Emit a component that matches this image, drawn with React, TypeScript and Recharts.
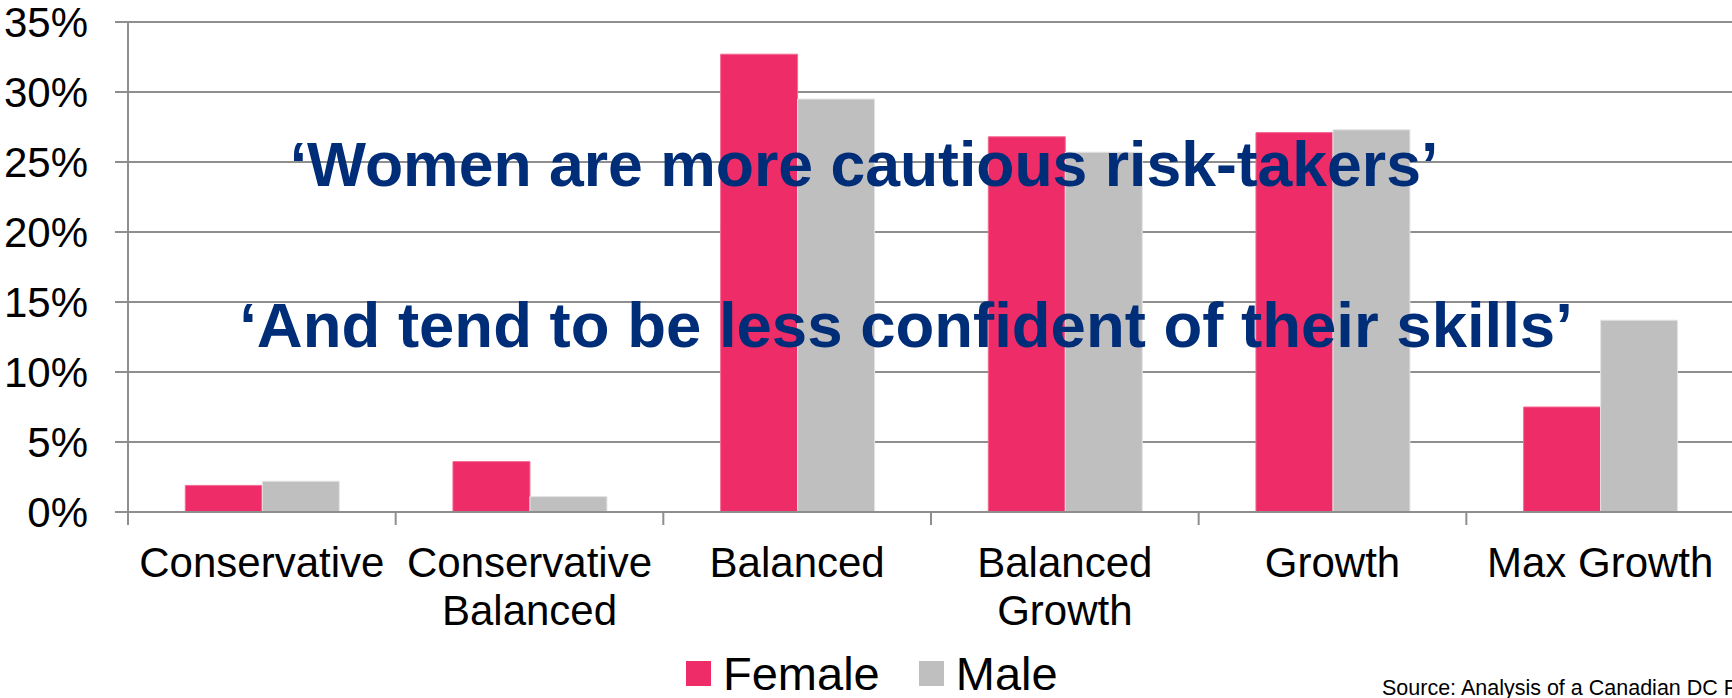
import React from "react";
import { BarChart, Bar, XAxis, YAxis, CartesianGrid, Legend } from "recharts";

// Share of members in each fund option, by gender (percent)
const categories = [
  "Conservative",
  "Conservative\nBalanced",
  "Balanced",
  "Balanced\nGrowth",
  "Growth",
  "Max Growth",
];
const femaleShare = [1.9, 3.6, 32.7, 26.8, 27.1, 7.5];
const maleShare = [2.2, 1.1, 29.5, 25.7, 27.3, 13.7];
const yTicks = [0, 5, 10, 15, 20, 25, 30, 35];

const headlines = [
  "\u2018Women are more cautious risk-takers\u2019",
  "\u2018And tend to be less confident of their skills\u2019",
];
const sourceNote = "Source: Analysis of a Canadian DC Plan";

const data = categories.map((name, i) => ({
  name,
  Female: femaleShare[i],
  Male: maleShare[i],
}));

const FONT = "'Liberation Sans', Arial, Helvetica, sans-serif";
const AXIS_GREY = "#8e8e8e";
const FEMALE_COLOR = "#EE2C67";
const MALE_COLOR = "#BFBFBF";

const CHART_W = 1740;
const CHART_H = 698;
const PLOT_LEFT = 128;
const PLOT_RIGHT_MARGIN = 6;
const BAND = (CHART_W - PLOT_LEFT - PLOT_RIGHT_MARGIN) / categories.length;

const CategoryTick = (props: any) => {
  const { x, y, payload } = props;
  const half = payload && typeof payload.offset === "number" && payload.offset > 0 ? payload.offset : BAND / 2;
  const lines = String(payload.value).split("\n");
  return (
    <g>
      <line x1={x - half} x2={x - half} y1={y} y2={y + 13} stroke={AXIS_GREY} strokeWidth={2} />
      {lines.map((ln, i) => (
        <text
          key={i}
          x={x}
          y={y + 65 + i * 48}
          textAnchor="middle"
          fontSize={42}
          fontFamily={FONT}
          fill="#000"
        >
          {ln}
        </text>
      ))}
    </g>
  );
};

const LegendContent = (props: any) => {
  const items = props.payload || [];
  return (
    <div style={{ display: "flex", alignItems: "center", fontFamily: FONT }}>
      {items.map((it: any, i: number) => (
        <div key={i} style={{ display: "flex", alignItems: "center", marginRight: i === 0 ? 39 : 0 }}>
          <div style={{ width: 25, height: 25, background: it.color, marginRight: 12 }} />
          <span style={{ fontSize: 47, color: "#000", lineHeight: "47px" }}>{it.value}</span>
        </div>
      ))}
    </div>
  );
};

export default function App() {
  return (
    <div
      style={{
        position: "absolute",
        left: 0,
        top: 0,
        width: 1732,
        height: 698,
        overflow: "hidden",
        background: "#fff",
      }}
    >
      <BarChart
        width={CHART_W}
        height={CHART_H}
        data={data}
        margin={{ top: 22, right: PLOT_RIGHT_MARGIN, bottom: 0, left: 0 }}
        barCategoryGap="21.4%"
        barGap={0}
      >
        <CartesianGrid vertical={false} stroke={AXIS_GREY} strokeWidth={2} />
        <XAxis
          dataKey="name"
          height={186}
          interval={0}
          tickLine={false}
          tickSize={0}
          tickMargin={0}
          axisLine={{ stroke: AXIS_GREY, strokeWidth: 2 }}
          tick={<CategoryTick />}
        />
        <YAxis
          width={PLOT_LEFT}
          domain={[0, 35]}
          ticks={yTicks}
          interval={0}
          tickSize={13}
          tickMargin={27}
          tickFormatter={(v: number) => `${v}%`}
          tick={{ fontSize: 42, fontFamily: FONT, fill: "#000" }}
          tickLine={{ stroke: AXIS_GREY, strokeWidth: 2 }}
          axisLine={{ stroke: AXIS_GREY, strokeWidth: 2 }}
        />
        <Legend
          layout="horizontal"
          verticalAlign="middle"
          align="center"
          content={<LegendContent />}
          wrapperStyle={{ left: 686, top: 650, width: "auto" }}
        />
        <Bar dataKey="Female" fill={FEMALE_COLOR} stroke="#F46B95" strokeWidth={1} isAnimationActive={false} />
        <Bar dataKey="Male" fill={MALE_COLOR} stroke="#E4E4E4" strokeWidth={1} isAnimationActive={false} />
      </BarChart>

      <svg
        width={1732}
        height={698}
        style={{ position: "absolute", left: 0, top: 0, pointerEvents: "none" }}
      >
        <text x={864} y={186} textAnchor="middle" fontSize={62.5} fontWeight="bold" fontFamily={FONT} fill="#002D78">
          {headlines[0]}
        </text>
        <text x={906} y={347} textAnchor="middle" fontSize={63.5} fontWeight="bold" fontFamily={FONT} fill="#002D78">
          {headlines[1]}
        </text>
        <text x={1382} y={695} fontSize={21.5} fontFamily={FONT} fill="#000">
          {sourceNote}
        </text>
      </svg>
    </div>
  );
}
